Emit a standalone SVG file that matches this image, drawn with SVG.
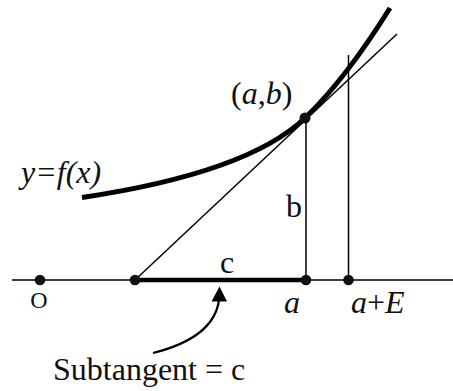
<svg xmlns="http://www.w3.org/2000/svg" width="453" height="391" viewBox="0 0 453 391">
<style>
.thin{stroke:#000;stroke-width:1.5;fill:none}
.dot{fill:#111}
.it{font-style:italic}
</style>
<rect width="453" height="391" fill="#fff"/>
<g id="axis">
<line class="thin" x1="12" y1="280" x2="453" y2="280"/>
<line x1="135" y1="280" x2="306" y2="280" stroke="#000" stroke-width="4.5"/>
</g>
<g id="lines">
<line class="thin" x1="135" y1="280" x2="397" y2="34"/>
<line class="thin" x1="306" y1="118" x2="306" y2="280"/>
<line class="thin" x1="348.5" y1="55" x2="348.5" y2="280"/>
</g>
<g id="curve">
<path d="M82,197.5 Q247.5,172.8 305,118 Q345.1,79.8 390,8" fill="none" stroke="#000" stroke-width="5"/>
</g>
<g id="points">
<circle class="dot" cx="40" cy="280" r="5.3"/>
<circle class="dot" cx="135" cy="280" r="5.3"/>
<circle class="dot" cx="306" cy="280" r="5.3"/>
<circle class="dot" cx="348.5" cy="280" r="5.3"/>
<circle class="dot" cx="305" cy="118" r="5.5"/>
</g>
<g id="labels" font-family="Liberation Serif, Times New Roman, serif" font-size="32" fill="#111">
<text x="231" y="103.5">(<tspan font-style="italic">a</tspan>,<tspan font-style="italic">b</tspan>)</text>
<text font-style="italic" x="21" y="183">y=f(x)</text>
<text x="286" y="217">b</text>
<text x="220" y="273">c</text>
<text x="39" y="308" font-size="24" text-anchor="middle">O</text>
<text font-style="italic" x="284" y="313">a</text>
<text font-style="italic" x="351" y="313">a<tspan font-style="normal">+</tspan>E</text>
<text x="53" y="380">Subtangent = c</text>
</g>
<g id="connectors">
<path d="M153,353 C185,345 215,330 219,300" fill="none" stroke="#000" stroke-width="2.2"/>
<polygon points="219.5,286.5 211.5,301.5 227,301.5" fill="#000"/>
</g>
</svg>
